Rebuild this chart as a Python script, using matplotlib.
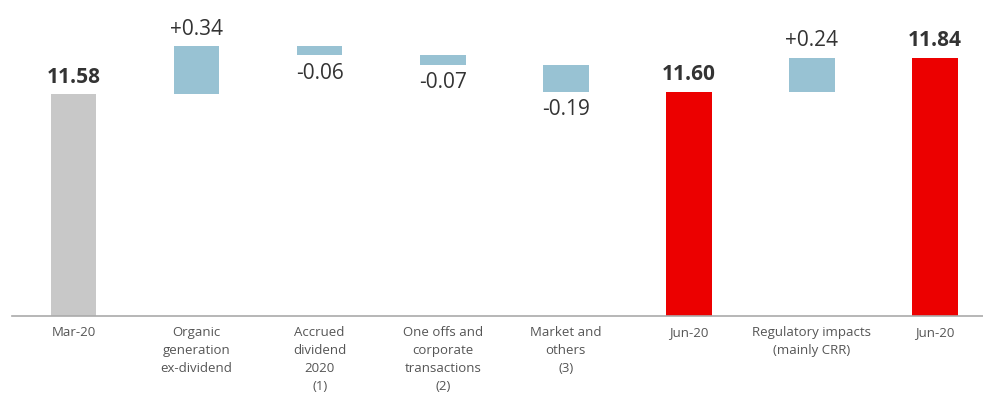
import matplotlib
matplotlib.use("Agg")
import matplotlib.pyplot as plt

plt.rcParams['font.family'] = ['Open Sans', 'DejaVu Sans']

categories = ['Mar-20', 'Organic\ngeneration\nex-dividend', 'Accrued\ndividend\n2020\n(1)',
              'One offs and\ncorporate\ntransactions\n(2)', 'Market and\nothers\n(3)', 'Jun-20',
              'Regulatory impacts\n(mainly CRR)', 'Jun-20']
values = [11.58, 0.34, -0.06, -0.07, -0.19, 11.60, 0.24, 11.84]
kinds = ['start', 'delta', 'delta', 'delta', 'delta', 'total', 'delta', 'total']
labels = ['11.58', '+0.34', '-0.06', '-0.07', '-0.19', '11.60', '+0.24', '11.84']

base = 10.02
colors = {'start': '#c8c8c8', 'delta': '#98c2d3', 'total': '#ec0000'}

fig = plt.figure(figsize=(9.83, 4.0), dpi=100)
ax = fig.add_axes([12 / 983, 84 / 400, 971 / 983, 316 / 400])

running = 0
for i, (v, k, lab) in enumerate(zip(values, kinds, labels)):
    if k == 'delta':
        bottom = running if v > 0 else running + v
        height = abs(v)
        top = running + v
        running = top
        ax.bar(i, height, bottom=bottom, width=0.37, color=colors[k])
        if v > 0:
            ax.text(i, bottom + height + 0.045, lab, ha='center', va='bottom',
                    fontsize=15, color='#333333')
        else:
            ax.text(i, bottom - 0.055, lab, ha='center', va='top',
                    fontsize=15, color='#333333')
    else:
        running = v
        ax.bar(i, v - base, bottom=base, width=0.37, color=colors[k])
        ax.text(i, v + 0.045, lab, ha='center', va='bottom',
                fontsize=15, fontweight='bold', color='#333333')

ax.set_xlim(-0.5, 7.39)
ax.set_ylim(base, base + 400 / 142 * 316 / 400)
ax.set_yticks([])
ax.set_xticks(range(len(categories)))
ax.set_xticklabels(categories, fontsize=9.5, color='#555555', linespacing=1.5)
ax.tick_params(axis='x', length=0, pad=7)
for s in ['top', 'right', 'left']:
    ax.spines[s].set_visible(False)
ax.spines['bottom'].set_color('#aaaaaa')
ax.spines['bottom'].set_linewidth(1.2)

fig.savefig('out.png', dpi=100)
